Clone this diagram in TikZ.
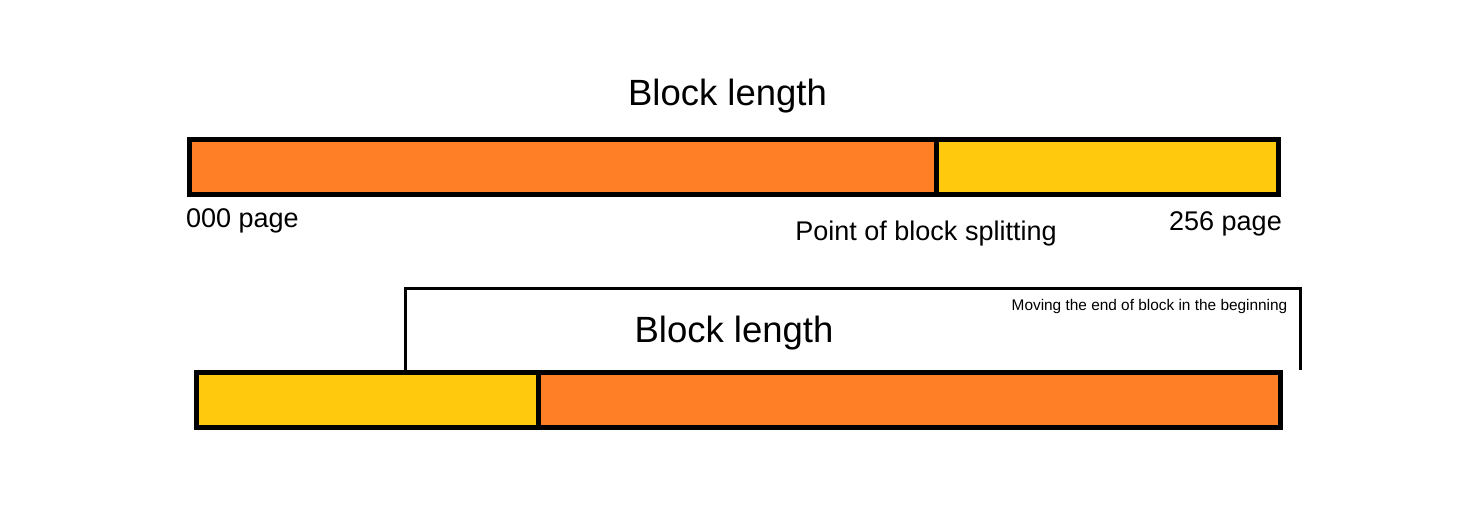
\documentclass[tikz,border=0pt]{standalone}
\usepackage{fontspec}
\setmainfont{Liberation Sans}
\usepackage{xcolor}
\usetikzlibrary{positioning}
\definecolor{partorange}{RGB}{255,127,39}
\definecolor{partyellow}{RGB}{255,201,14}

\begin{document}
\begin{tikzpicture}[x=1pt, y=-1pt,
    seg/.style={rectangle, draw=black, line width=5pt, inner sep=0pt, minimum height=55pt},
    bigtext/.style={inner sep=0pt, anchor=base, font=\fontsize{36.5}{44}\selectfont},
    pagetext/.style={inner sep=0pt, anchor=base, font=\fontsize{27}{32}\selectfont},
    smalltext/.style={inner sep=0pt, anchor=base, font=\fontsize{15.4}{18}\selectfont},
    bracket/.style={draw=black, line width=3pt}]
    \useasboundingbox (0,0) rectangle (1474,520);

    % Upper block
    \node[bigtext] (lenTop) at (727.5,105) {Block length};
    \node[seg, fill=partorange, minimum width=747pt] (topHead) at (563,167) {};
    \node[seg, fill=partyellow, minimum width=342pt] (topTail) at (1107.5,167) {};
    \node[pagetext] (pageFirst) at (242.5,227.3) {000 page};
    \node[pagetext] (splitPoint) at (926,240) {Point of block splitting};
    \node[pagetext] (pageLast) at (1225.5,230) {256 page};

    % Lower block
    \node[seg, fill=partyellow, minimum width=342pt] (botTail) at (367.5,400) {};
    \node[seg, fill=partorange, minimum width=741.5pt] (botHead) at (909.25,400) {};

    % Bracket over the moved block
    \coordinate (brLeft) at (405.5,370);
    \coordinate (brTop) at (1300,288.5);
    \coordinate (brRight) at (1300,370);
    \draw[bracket] (brLeft) |- (brTop) -- (brRight);
    \node[bigtext] (lenBot) at (734,342.3) {Block length};
    \node[smalltext] (moveNote) at (1149.5,310) {Moving the end of block in the beginning};

\end{tikzpicture}
\end{document}
